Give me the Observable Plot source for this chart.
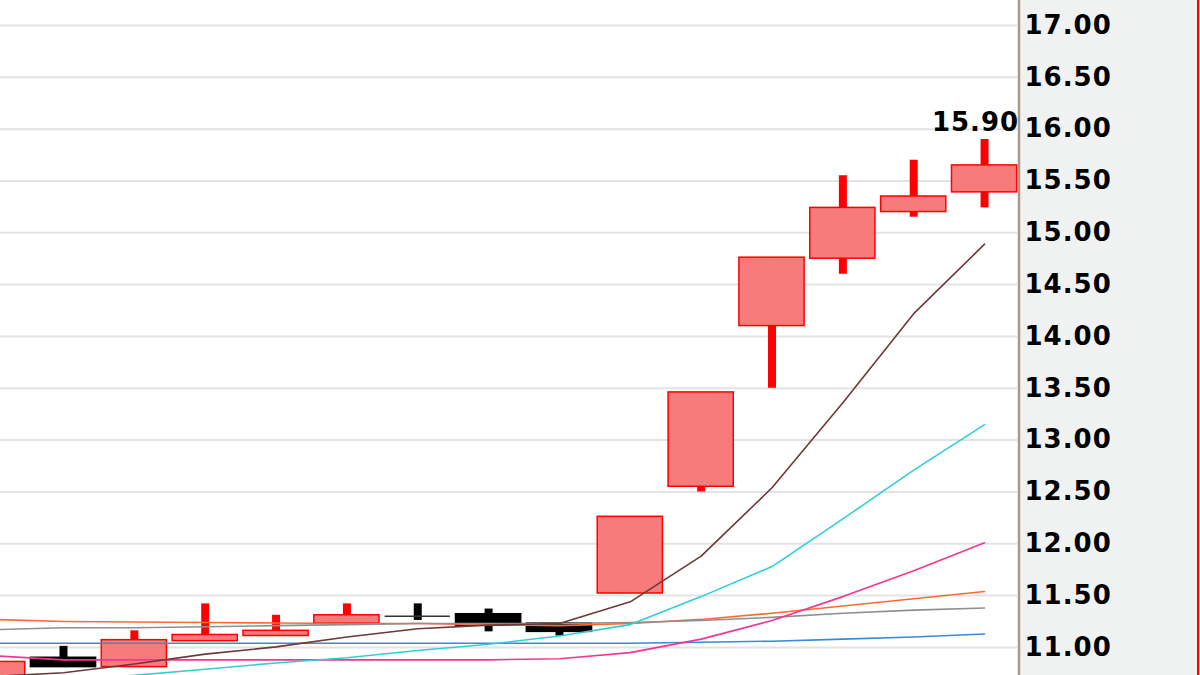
<!DOCTYPE html>
<html><head><meta charset="utf-8">
<script src="https://cdn.jsdelivr.net/npm/d3@7"></script>
<script src="https://cdn.jsdelivr.net/npm/@observablehq/plot@0.6"></script>
<style>
html,body{margin:0;padding:0;background:#fff;overflow:hidden}
#chart text{letter-spacing:1px}
</style>
</head><body><div id="chart"></div>
<script>
// Candles (index 0..14)
const openP  = [10.62, 10.90, 10.81, 11.06, 11.11, 11.23, 11.30, 11.32, 11.23, 11.52, 12.55, 14.10, 14.75, 15.20, 15.39];
const highP  = [10.86, 11.01, 11.16, 11.42, 11.31, 11.42, 11.42, 11.37, 11.23, 12.26, 13.46, 14.76, 15.55, 15.70, 15.90];
const lowP   = [10.62, 10.81, 10.81, 11.06, 11.11, 11.23, 11.26, 11.15, 11.11, 11.52, 12.50, 13.50, 14.60, 15.15, 15.24];
const closeP = [10.86, 10.81, 11.07, 11.12, 11.16, 11.31, 11.30, 11.21, 11.15, 12.26, 13.46, 14.76, 15.24, 15.35, 15.65];

// Moving-average lines
const maBrown   = [10.72, 10.755, 10.84, 10.935, 11.005, 11.10, 11.18, 11.215, 11.23, 11.44, 11.88, 12.54, 13.36, 14.22, 14.89];
const maCyan    = [10.62, 10.68, 10.73, 10.79, 10.85, 10.90, 10.97, 11.03, 11.11, 11.22, 11.49, 11.78, 12.24, 12.71, 13.15];
const maMagenta = [10.92, 10.88, 10.88, 10.88, 10.88, 10.88, 10.88, 10.88, 10.89, 10.95, 11.08, 11.26, 11.49, 11.74, 12.01];
const maOrange  = [11.27, 11.25, 11.245, 11.24, 11.235, 11.23, 11.23, 11.22, 11.21, 11.23, 11.27, 11.33, 11.40, 11.47, 11.54];
const maGrey    = [11.17, 11.19, 11.19, 11.20, 11.21, 11.22, 11.23, 11.23, 11.23, 11.24, 11.26, 11.29, 11.33, 11.36, 11.38];
const maBlue    = [11.04, 11.04, 11.04, 11.04, 11.04, 11.04, 11.04, 11.04, 11.04, 11.04, 11.05, 11.06, 11.08, 11.10, 11.13];

// Y tick labels
const yTicks = [11, 11.5, 12, 12.5, 13, 13.5, 14, 14.5, 15, 15.5, 16, 16.5, 17];

const idx = d3.range(openP.length);
const candles = idx.map(i => ({i, open: openP[i], high: highP[i], low: lowP[i], close: closeP[i]}));
const kind = d => d.close > d.open ? "up" : d.close < d.open ? "down" : "flat";

const series = [
  {values: maOrange,  color: "#ff6a33"},
  {values: maGrey,    color: "#8f8f8f"},
  {values: maBlue,    color: "#3a8ad8"},
  {values: maMagenta, color: "#f2388e"},
  {values: maCyan,    color: "#30cfd4"},
  {values: maBrown,   color: "#6e3838"}
];

const HW = 0.46;

const panel = (index, scales, values, dims) => {
  const g = d3.create("svg:g");
  const x0 = dims.width - dims.marginRight;
  g.append("rect").attr("x", x0).attr("y", 0).attr("width", dims.marginRight).attr("height", dims.height).attr("fill", "#f0f2f2");
  g.append("line").attr("x1", x0 + 1).attr("x2", x0 + 1).attr("y1", 0).attr("y2", dims.height).attr("stroke", "#a8998a").attr("stroke-width", 2.5);
  g.append("line").attr("x1", dims.width - 2).attr("x2", dims.width - 2).attr("y1", 0).attr("y2", dims.height).attr("stroke", "#ff0000").attr("stroke-width", 2);
  return g.node();
};

const chart = Plot.plot({
  width: 1200,
  height: 675,
  marginLeft: 0,
  marginRight: 182,
  marginTop: 0,
  marginBottom: 0,
  style: {fontFamily: "'DejaVu Sans', Verdana, sans-serif", background: "#ffffff"},
  x: {type: "linear", domain: [0.1108, 14.479], axis: null},
  y: {domain: [10.729, 17.241], axis: null},
  color: {type: "identity"},
  marks: [
    panel,
    Plot.ruleY(yTicks, {stroke: "#e3e3e3", strokeWidth: 2}),
    Plot.ruleX(candles, {x: "i", y1: "low", y2: "high", strokeWidth: 8, clip: true,
      stroke: d => kind(d) === "up" ? "#ff0000" : "#000000"}),
    Plot.rect(candles.filter(d => kind(d) !== "flat"), {
      x1: d => d.i - HW, x2: d => d.i + HW, y1: "open", y2: "close", clip: true,
      fill: d => kind(d) === "up" ? "#f77b7b" : "#000000",
      stroke: d => kind(d) === "up" ? "#ff0000" : "#000000", strokeWidth: 1.5}),
    Plot.ruleY(candles.filter(d => kind(d) === "flat"), {
      x1: d => d.i - HW, x2: d => d.i + HW, y: "open", stroke: "#333333", strokeWidth: 1.5, clip: true}),
    ...series.map(s => Plot.line(idx, {x: d => d, y: d => s.values[d], stroke: s.color, strokeWidth: 1.6, clip: true})),
    Plot.text([candles[candles.length - 1]], {x: "i", y: "high", text: d => d.high.toFixed(2),
      dy: -17, dx: -9, fontSize: 26, fontWeight: "bold", fill: "#000000"}),
    Plot.axisY(yTicks, {anchor: "right", tickSize: 0, tickPadding: 6, tickFormat: d => d.toFixed(2),
      fontSize: 26, fontWeight: "bold", fill: "#000000", textAnchor: "start"})
  ]
});
document.getElementById("chart").appendChild(chart);
</script>
</body></html>
